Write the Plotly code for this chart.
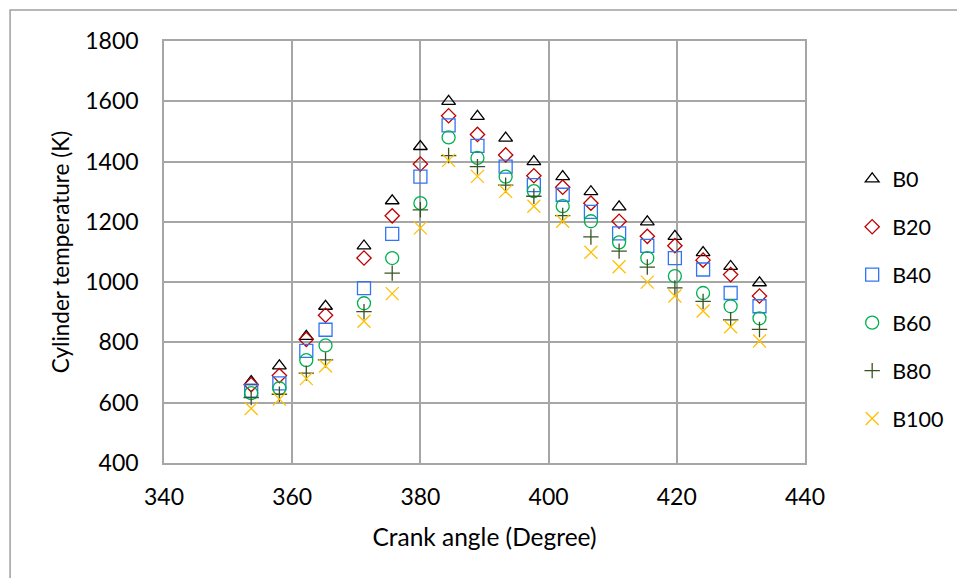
import plotly.graph_objects as go

crank_angle = [353.6, 358.0, 362.2, 365.2, 371.2, 375.6, 380.0, 384.4, 388.9, 393.3,
               397.7, 402.2, 406.6, 411.0, 415.4, 419.7, 424.1, 428.4, 432.9]

b0 = [670, 722, 820, 920, 1120, 1270, 1450, 1600, 1550, 1478, 1400, 1350, 1300, 1250, 1200, 1152, 1098, 1052, 998]
b20 = [660, 690, 810, 890, 1080, 1220, 1392, 1552, 1490, 1422, 1353, 1315, 1262, 1202, 1152, 1121, 1073, 1025, 954]
b40 = [640, 664, 772, 842, 980, 1160, 1350, 1520, 1452, 1383, 1322, 1290, 1233, 1162, 1120, 1080, 1042, 964, 920]
b60 = [632, 648, 741, 790, 930, 1080, 1262, 1480, 1412, 1350, 1302, 1252, 1202, 1132, 1080, 1020, 964, 920, 880]
b80 = [617, 628, 698, 742, 902, 1030, 1240, 1420, 1383, 1322, 1285, 1221, 1150, 1103, 1050, 981, 936, 875, 843]
b100 = [581, 612, 680, 722, 870, 962, 1180, 1404, 1351, 1301, 1252, 1202, 1099, 1051, 1000, 954, 904, 852, 805]

series_names = ["B0", "B20", "B40", "B60", "B80", "B100"]
series_values = [b0, b20, b40, b60, b80, b100]
symbols = ["triangle-up-open", "diamond-open", "square-open", "circle-open", "cross-thin-open", "x-thin-open"]
colors = ["#000000", "#C00000", "#2F75F5", "#00B050", "#3B5323", "#FFC000"]
sizes = [12, 11, 13, 13, 11, 13]

x_ticks = [340, 360, 380, 400, 420, 440]
y_ticks = [400, 600, 800, 1000, 1200, 1400, 1600, 1800]

FONT = "Lato"

fig = go.Figure()
for i, (name, vals) in enumerate(zip(series_names, series_values)):
    fig.add_trace(go.Scatter(
        x=crank_angle, y=vals, mode="markers", name=name,
        legendgroup=name,
        marker=dict(symbol=symbols[i], size=sizes[i], color=colors[i],
                    line=dict(width=1.3, color=colors[i])),
        cliponaxis=False,
    ))

grid = "#A6A6A6"
fig.update_layout(
    width=957, height=578,
    margin=dict(l=164, r=151.5, t=41, b=114.7, autoexpand=False),
    paper_bgcolor="white", plot_bgcolor="white",
    font=dict(family=FONT, size=23, color="#000000"),
    showlegend=True,
    legend=dict(x=1.0736, y=0.722, xanchor="left", yanchor="top",
                font=dict(family=FONT, size=21.5, color="#000000"),
                tracegroupgap=17, itemwidth=30, bgcolor="rgba(0,0,0,0)"),
    xaxis=dict(range=[340, 440], tickvals=x_ticks, ticktext=[str(v) for v in x_ticks],
               showgrid=True, gridcolor=grid, gridwidth=1.5,
               showline=True, linecolor=grid, linewidth=1.5, mirror=True,
               zeroline=False, ticks="", tickfont=dict(size=23), ticklabelstandoff=13,
               title=dict(text="Crank angle (Degree)", font=dict(size=24.5), standoff=20)),
    yaxis=dict(range=[400, 1800], tickvals=y_ticks, ticktext=[str(v) for v in y_ticks],
               showgrid=True, gridcolor=grid, gridwidth=1.5,
               showline=True, linecolor=grid, linewidth=1.5, mirror=True,
               zeroline=False, ticks="", tickfont=dict(size=23), ticklabelstandoff=19,
               title=dict(text="Cylinder temperature (K)", font=dict(size=22.5), standoff=9)),
)

# outer chart frame (cropped at right/bottom as in reference)
fig.add_shape(type="path", xref="paper", yref="paper",
              path="M -0.2401 -0.4 L -0.2401 1.0733 L 1.4 1.0733",
              line=dict(color="#A0A0A0", width=1.5))

fig.write_html("out.html")
